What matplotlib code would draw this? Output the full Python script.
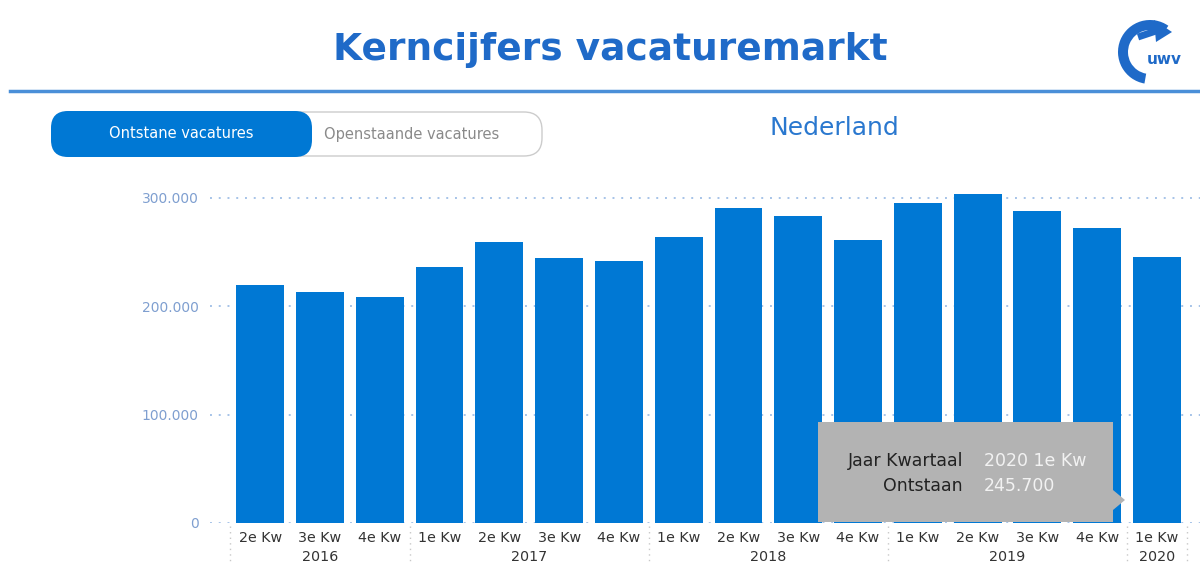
import matplotlib
matplotlib.use("Agg")
import matplotlib.pyplot as plt
from matplotlib.patches import FancyBboxPatch, Rectangle, Wedge, Polygon
import numpy as np

quarters = ["2e Kw", "3e Kw", "4e Kw",
            "1e Kw", "2e Kw", "3e Kw", "4e Kw",
            "1e Kw", "2e Kw", "3e Kw", "4e Kw",
            "1e Kw", "2e Kw", "3e Kw", "4e Kw",
            "1e Kw"]
years = ["2016", "2017", "2018", "2019", "2020"]
year_counts = [3, 4, 4, 4, 1]
values = [219700, 213200, 208600, 236300, 259400, 244600, 241800, 264000,
          290800, 283400, 261200, 294800, 304000, 288000, 272300, 245700]
yticks = [0, 100000, 200000, 300000]
ytick_labels = ["0", "100.000", "200.000", "300.000"]

blue = "#0078d4"
W, H = 1200, 564
fig = plt.figure(figsize=(12, 5.64), dpi=100)

# chart axes (pixel layout: left 210, bottom 523, top 187)
ax = fig.add_axes([210 / W, (H - 523) / H, 1 - 210 / W, 336 / H])
x = np.arange(len(values))
ax.bar(x, values, width=0.8, color=blue, zorder=2)
ax.set_xlim(-0.84, 15.72)
ax.set_ylim(0, 310000)
ax.set_yticks(yticks)
ax.set_yticklabels(ytick_labels, color="#7f9fd0", fontsize=10, family="DejaVu Sans")
ax.grid(axis="y", linestyle=(0, (1, 3.5)), color="#a6c3e8", linewidth=1.4, zorder=0)
ax.tick_params(axis="y", length=0, pad=8)
ax.set_xticks(x)
ax.set_xticklabels(quarters, color="#333333", fontsize=10.3, family="DejaVu Sans")
ax.tick_params(axis="x", length=0, pad=6)
for s in ax.spines.values():
    s.set_visible(False)

# year labels and separators
trans = ax.get_xaxis_transform()
start = 0
seps = [-0.5]
for yr, n in zip(years, year_counts):
    mid = start + (n - 1) / 2
    ax.text(mid, -0.1, yr, transform=trans, ha="center", va="center",
            fontsize=10.3, color="#333333", family="DejaVu Sans")
    start += n
    seps.append(start - 0.5)
for s in seps:
    ax.plot([s, s], [-0.01, -0.13], transform=trans, clip_on=False,
            color="#c8c8c8", linestyle=(0, (1, 3)), linewidth=1)

# overlay in pixel coordinates
ov = fig.add_axes([0, 0, 1, 1])
ov.set_xlim(0, W)
ov.set_ylim(H, 0)
ov.axis("off")
ov.patch.set_alpha(0)

ov.text(610, 50, "Kerncijfers vacaturemarkt", ha="center", va="center",
        fontsize=27, fontweight="bold", color="#1f6ac8", family="DejaVu Sans")
ov.plot([10, 1200], [91, 91], color="#4a8fd8", linewidth=2.5)

# toggle button
ov.add_patch(FancyBboxPatch((52, 112), 490, 44, boxstyle="round,pad=0,rounding_size=18",
                            facecolor="white", edgecolor="#cccccc", linewidth=1))
ov.add_patch(FancyBboxPatch((51, 111), 261, 46, boxstyle="round,pad=0,rounding_size=17",
                            facecolor=blue, edgecolor="none"))
ov.text(181, 134, "Ontstane vacatures", ha="center", va="center", fontsize=10.5,
        color="white", fontweight="medium", family="DejaVu Sans")
ov.text(412, 134, "Openstaande vacatures", ha="center", va="center", fontsize=10.5,
        color="#8a8a8a", family="DejaVu Sans")
ov.text(834, 128, "Nederland", ha="center", va="center", fontsize=18,
        color="#2a78cf", family="DejaVu Sans")

# logo
logo = "#1f6ac8"
ov.add_patch(Wedge((1150, 52), 32, 100, 305, width=10, facecolor=logo))
ov.add_patch(Polygon([[1154, 20], [1172, 32], [1156, 42]], closed=True,
                     facecolor=logo))
ov.plot([1138, 1156], [37, 31], color=logo, linewidth=5, solid_capstyle="butt")
ov.text(1164, 60, "uwv", ha="center", va="center", fontsize=11,
        fontweight="bold", color=logo, family="DejaVu Sans")

# tooltip
ov.add_patch(Rectangle((818, 422), 295, 100, facecolor="#b3b3b3", edgecolor="none", zorder=5))
ov.add_patch(Polygon([[1113, 490], [1125, 500], [1113, 510]], closed=True,
                     facecolor="#b3b3b3", edgecolor="none", zorder=5))
ov.text(963, 461, "Jaar Kwartaal", ha="right", va="center", fontsize=12.5,
        color="#222222", family="DejaVu Sans", zorder=6)
ov.text(984, 461, "2020 1e Kw", ha="left", va="center", fontsize=12.5,
        color="#f2f2f2", family="DejaVu Sans", zorder=6)
ov.text(963, 486, "Ontstaan", ha="right", va="center", fontsize=12.5,
        color="#222222", family="DejaVu Sans", zorder=6)
ov.text(984, 486, "245.700", ha="left", va="center", fontsize=12.5,
        color="#f2f2f2", family="DejaVu Sans", zorder=6)

fig.savefig("out.png", dpi=100)
